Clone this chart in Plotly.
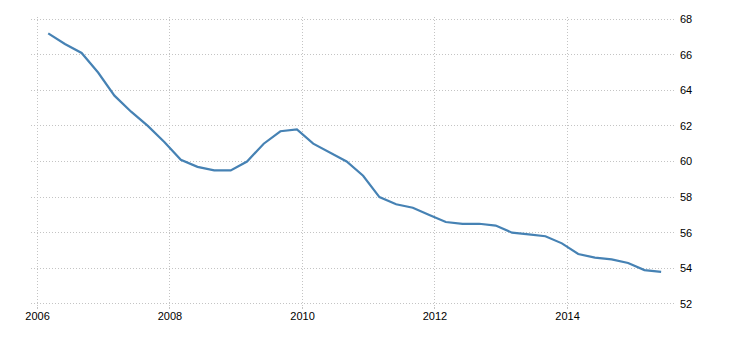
import plotly.graph_objects as go
import pandas as pd

dates = pd.date_range("2006-03-01", periods=38, freq="3MS").strftime("%Y-%m-%d").tolist()
values = [67.2, 66.6, 66.1, 65.0, 63.7, 62.8, 62.0, 61.1, 60.1, 59.7,
          59.5, 59.5, 60.0, 61.0, 61.7, 61.8, 61.0, 60.5, 60.0, 59.2,
          58.0, 57.6, 57.4, 57.0, 56.6, 56.5, 56.5, 56.4, 56.0, 55.9,
          55.8, 55.4, 54.8, 54.6, 54.5, 54.3, 53.9, 53.8]
y_ticks = [52, 54, 56, 58, 60, 62, 64, 66, 68]
x_ticks = ["2006-01-01", "2008-01-01", "2010-01-01", "2012-01-01", "2014-01-01"]
x_tick_labels = ["2006", "2008", "2010", "2012", "2014"]

fig = go.Figure()
fig.add_trace(go.Scatter(x=dates, y=values, mode="lines",
                         line=dict(color="#4682b4", width=2.2), hoverinfo="skip"))

grid = "#c4c4c4"
fig.update_layout(
    width=730, height=340,
    margin=dict(l=31, r=54, t=17, b=34),
    paper_bgcolor="white", plot_bgcolor="white",
    showlegend=False,
    font=dict(family="Liberation Sans, Arial, sans-serif", size=11, color="#000"),
    xaxis=dict(
        type="date",
        range=["2005-11-26", "2015-08-22"],
        tickvals=x_ticks, ticktext=x_tick_labels,
        showgrid=True, gridcolor=grid, griddash="1px,2px", gridwidth=1,
        ticks="outside", ticklen=2, tickcolor=grid, tickwidth=1,
        ticklabelstandoff=-2,
        showline=False, zeroline=False,
    ),
    yaxis=dict(
        side="right",
        range=[51.88, 68.12],
        tickvals=y_ticks,
        showgrid=True, gridcolor=grid, griddash="1px,2px", gridwidth=1,
        ticks="", ticklabelstandoff=3,
        showline=False, zeroline=False,
    ),
)
fig.write_html("out.html")
